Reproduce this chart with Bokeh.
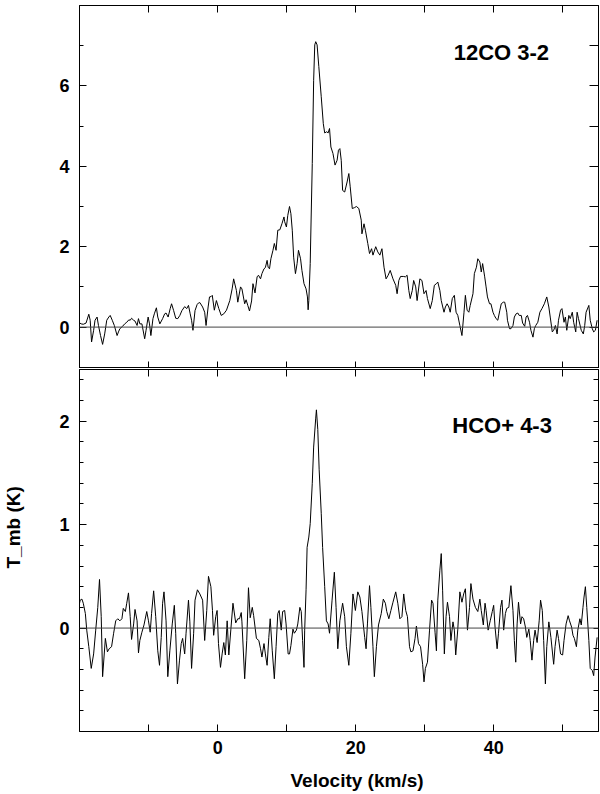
from bokeh.plotting import figure
from bokeh.layouts import column
from bokeh.models import Range1d, LinearAxis, FixedTicker, Span, Label, Title
from bokeh.embed import file_html
from bokeh.resources import INLINE

# ---------------- data ----------------
co_vel = [-20.2, -19.8, -19.5, -19.1, -18.7, -18.5, -18.3, -18.0, -17.8, -17.5, -17.3, -17.0, -16.7, -16.4,
          -16.1, -15.8, -15.6, -15.3, -15.0, -14.6, -14.4, -14.2, -13.8, -13.5, -13.2, -12.9, -12.7, -12.5,
          -12.2, -12.0, -11.7, -11.5, -11.3, -11.0, -10.6, -10.4, -10.1, -9.9, -9.7, -9.4, -9.2, -8.9, -8.7,
          -8.4, -8.0, -7.7, -7.5, -7.2, -6.9, -6.7, -6.4, -6.1, -5.8, -5.5, -5.2, -4.8, -4.5, -4.25, -4.0,
          -3.8, -3.6, -3.3, -3.0, -2.8, -2.6, -2.2, -1.9, -1.7, -1.4, -1.2, -0.96,
          -0.8, -0.5, -0.2, 0.15, 0.5, 0.87, 1.26, 1.74, 2.08, 2.3, 2.7, 2.9, 3.3, 3.5, 3.9, 4.1, 4.35, 4.6,
          4.9, 5.1, 5.4, 5.7, 5.9, 6.2, 6.4, 6.7, 6.9, 7.15, 7.3, 7.5, 7.7, 8.0, 8.2, 8.45, 8.7, 9.0, 9.3,
          9.6, 9.7, 9.95, 10.15, 10.4, 10.6, 10.8, 11.0, 11.26, 11.5, 11.7, 12.0, 12.2, 12.5, 12.8, 13.0,
          13.1, 13.2, 13.4, 13.7, 13.9, 14.06, 14.2, 14.4,
          14.65, 15.0, 15.3, 15.5, 15.8, 16.0, 16.2, 16.4, 16.7, 17.0, 17.3, 17.5, 17.7, 17.9, 18.1, 18.4,
          18.75, 19.0, 19.2, 19.5, 19.8, 20.1, 20.45, 20.8, 20.9, 21.2, 21.4, 21.75, 22.0, 22.3, 22.5, 22.9,
          23.2, 23.5, 23.8, 24.1, 24.4, 24.7, 25.0, 25.4, 25.8, 26.0, 26.25, 26.5, 26.9, 27.2, 27.45, 27.7,
          27.9, 28.2, 28.4, 28.7, 28.9, 29.3, 29.6, 29.9, 30.2, 30.4, 30.8, 31.1, 31.4, 31.7, 31.9, 32.2,
          32.4, 32.8, 33.0, 33.25, 33.5, 33.7, 34.0, 34.3, 34.55, 34.8, 35.1, 35.4, 35.7, 35.9, 36.15, 36.4,
          36.6, 37.0, 37.2, 37.5, 37.7, 38.0, 38.2, 38.4, 38.7, 38.9, 39.1, 39.4, 39.6, 39.9, 40.1, 40.35,
          40.6, 40.9, 41.1, 41.4, 41.6, 41.9, 42.0, 42.3, 42.5, 42.8, 43.0, 43.25, 43.5, 43.7, 44.0, 44.2,
          44.5, 44.7, 44.9, 45.2, 45.4, 45.7, 45.9, 46.1, 46.4, 46.7, 47.0, 47.35, 47.7, 48.0, 48.2, 48.5,
          48.7, 48.95, 49.2, 49.4, 49.7, 49.9, 50.2, 50.4, 50.6, 50.9, 51.1, 51.4, 51.6, 51.9, 52.1, 52.3,
          52.7, 53.0, 53.2, 53.4, 53.8, 54.0, 54.3, 54.5, 54.75, 55.0]
co_tmb = [0.12, 0.08, 0.07, 0.10, 0.32, 0.17, -0.37, -0.08, 0.17, 0.25, 0.04, -0.21, -0.43, -0.17,
          0.17, 0.25, 0.29, 0.17, 0.04, -0.21, -0.12, -0.04, 0.02, 0.08, 0.12, 0.18, 0.17, 0.22,
          0.17, 0.15, 0.04, 0.21, 0.08, 0.08, -0.29, -0.08, 0.25, 0.08, -0.21, 0.21, 0.33, 0.48, 0.25,
          0.08, 0.21, 0.33, 0.35, 0.25, 0.46, 0.58, 0.41, 0.22, 0.21, 0.29, 0.41, 0.51, 0.46, 0.54, 0.33,
          0.17, -0.08, 0.41, 0.56, 0.60, 0.61, 0.50, 0.37, 0.04, 0.50, 0.75, 0.76,
          0.79, 0.42, 0.66, 0.46, 0.29, 0.33, 0.42, 0.66, 0.95, 1.20, 0.91, 0.62, 1.00, 0.95, 0.58, 0.68, 0.54, 0.40,
          0.65, 1.08, 0.85, 1.25, 1.29, 1.20, 1.33, 1.45, 1.48, 1.66, 1.49, 1.45, 1.70, 1.91, 2.08, 1.91, 2.41, 2.42, 2.57,
          2.74, 2.62, 2.49, 2.78, 3.00, 2.82, 2.41, 1.74, 1.33, 1.58, 1.91, 1.70, 1.41, 1.08, 0.95, 0.75,
          0.43, 0.66, 1.58, 4.07, 6.14, 7.02, 7.10, 7.02,
          6.48, 5.73, 5.06, 4.83, 4.86, 4.83, 4.94, 4.48, 4.32, 4.03, 4.15, 4.40, 4.44, 4.15, 3.40, 3.36,
          3.61, 3.82, 3.49, 2.95, 2.97, 3.00, 2.95, 2.66, 2.32, 2.57, 2.41, 2.08, 1.83, 1.95, 1.79, 2.00,
          1.87, 1.79, 1.95, 1.49, 1.20, 1.29, 1.41, 1.20, 1.04, 0.83, 1.16, 1.26, 1.26, 1.25, 1.29, 0.91,
          0.71, 0.91, 1.16, 1.00, 0.66, 1.20, 1.16, 0.83, 0.91, 0.71, 0.46, 0.66, 1.04, 1.08, 1.12, 0.91,
          0.66, 0.37, 0.50, 0.58, 0.50, 0.37, 0.71, 0.79, 0.37, 0.29, 0.04, -0.21, 0.37, 0.79, 0.42, 0.37,
          0.54, 0.83, 1.33, 1.49, 1.70, 1.62, 1.37, 1.58, 1.25, 1.00, 0.75, 0.58, 0.58, 0.37, 0.29, 0.21,
          0.17, 0.42, 0.58, 0.62, 0.62, 0.37, 0.17, -0.04, -0.04, 0.04, 0.25, 0.33, 0.35, 0.29, 0.29, 0.10,
          0.02, 0.25, 0.29, 0.12, -0.08, -0.25, -0.04, 0.04, 0.12, 0.37, 0.46, 0.58, 0.75, 0.50, 0.25, -0.12,
          -0.08, 0.04, -0.17, 0.17, 0.42, 0.46, 0.12, 0.25, -0.08, 0.29, 0.21, 0.37, 0.12, -0.12, 0.37, 0.21,
          -0.08, -0.17, 0.04, 0.37, 0.54, 0.17, -0.04, -0.12, -0.08, 0.17]

hco_vel = [-20.2, -19.95, -19.7, -19.5, -19.2, -19.0, -18.7, -18.35, -18.0, -17.7, -17.4, -17.15, -16.9,
           -16.7, -16.3, -16.0, -15.75, -15.4, -15.1, -14.8, -14.5, -14.2, -13.9, -13.7, -13.4, -13.2,
           -12.95, -12.7, -12.5, -12.2, -12.0, -11.7, -11.5, -11.3, -11.0, -10.7, -10.3, -10.05, -9.8,
           -9.6, -9.3, -9.0, -8.7, -8.45, -8.2, -8.0, -7.8, -7.5, -7.25, -6.95, -6.6, -6.3, -6.1, -5.85,
           -5.55, -5.3, -5.1, -4.8, -4.6, -4.25, -4.05, -3.8, -3.5, -3.3, -2.95, -2.6, -2.2, -1.9, -1.6,
           -1.35, -1.0, -0.77, -0.6, -0.3, -0.1, 0.1,
           0.39, 0.63, 0.87, 1.1, 1.36, 1.6, 1.9, 2.2, 2.6, 2.9, 3.15, 3.4, 3.5, 3.9, 4.2, 4.45, 4.7, 5.0,
           5.2, 5.6, 5.95, 6.2, 6.4, 6.7, 6.9, 7.15, 7.4, 7.6, 7.9, 8.2, 8.45, 8.7, 8.9, 9.2, 9.4, 9.7,
           9.9, 10.2, 10.4, 10.6, 10.9, 11.1, 11.4, 11.6, 11.9, 12.1, 12.3, 12.5, 12.6, 12.8, 12.95, 13.2,
           13.4, 13.7, 13.9, 14.2, 14.3, 14.5, 14.7, 15.0, 15.2, 15.5, 15.75, 16.0, 16.2,
           16.57, 16.9, 17.15, 17.4, 17.7, 18.1, 18.4, 18.65, 19.0, 19.3, 19.6, 19.95, 20.3, 20.6, 20.9,
           21.3, 21.5, 21.7, 22.0, 22.2, 22.5, 22.7, 23.0, 23.3, 23.7, 24.0, 24.3, 24.5, 24.8, 25.1, 25.4,
           25.8, 26.1, 26.4, 26.7, 26.96, 27.25, 27.5, 27.8, 28.0, 28.3, 28.6, 28.8, 29.1, 29.4, 29.7,
           29.9, 30.1, 30.4, 30.7, 31.0, 31.2, 31.5, 31.7, 31.9, 32.2, 32.4, 32.6, 32.85, 33.1, 33.3, 33.6,
           33.8, 34.1, 34.3, 34.5, 34.8, 35.1,
           35.4, 35.65, 35.9, 36.2, 36.5, 36.7, 37.0, 37.35, 37.7, 38.0, 38.2, 38.5, 38.75, 38.9, 39.2,
           39.5, 39.8, 40.0, 40.2, 40.5, 40.7, 41.0, 41.2, 41.45, 41.7, 41.9, 42.2, 42.5, 42.8, 43.0, 43.2,
           43.4, 43.6, 43.9, 44.1, 44.35, 44.6, 44.8, 45.1, 45.3, 45.55, 45.8, 46.0, 46.3, 46.6, 46.8,
           47.05, 47.25, 47.5, 47.7, 48.0, 48.3, 48.7, 48.9, 49.2, 49.4, 49.7, 50.0, 50.2, 50.5, 50.8,
           51.0, 51.3, 51.5, 51.7, 52.0, 52.2, 52.5, 52.7, 52.95, 53.1, 53.3, 53.5, 53.8, 54.0, 54.3, 54.5,
           54.7, 55.0]
hco_tmb = [0.19, 0.27, 0.28, 0.24, 0.14, -0.02, -0.18, -0.39, -0.25, -0.02, 0.20, 0.47, 0.11,
           -0.47, -0.10, -0.23, -0.20, -0.18, -0.05, 0.07, 0.09, 0.07, 0.09, 0.19, 0.16, 0.24,
           0.34, 0.11, -0.11, 0.04, 0.18, 0.07, -0.24, -0.12, -0.04, 0.03, 0.16, 0.07, -0.04,
           0.14, 0.36, 0.11, -0.22, -0.36, -0.09, 0.24, 0.35, 0.07, -0.47, -0.22, 0.04, 0.22, -0.05, -0.54,
           -0.31, -0.15, -0.10, -0.25, -0.05, 0.27, 0.06, -0.39, -0.05, 0.27, 0.37, 0.33, 0.27, -0.12, 0.17,
           0.50, 0.40, 0.17, -0.07, 0.11, 0.17, -0.15,
           -0.38, -0.25, -0.14, -0.26, 0.07, -0.26, -0.01, 0.24, 0.05, 0.09, 0.09, 0.15, 0.06, -0.49, -0.12, 0.39, 0.10, 0.20,
           0.12, -0.10, -0.12, -0.20, -0.28, -0.15, -0.25, -0.36, -0.09, 0.09, -0.22, -0.49, -0.18, 0.14, 0.17, -0.02, 0.16, 0.17,
           0.04, -0.25, -0.25, -0.17, -0.01, -0.05, -0.02, 0.04, 0.20, 0.16, -0.12, -0.38, -0.02, 0.37, 0.78, 0.88,
           1.01, 1.40, 1.75, 2.03, 2.11, 1.92, 1.53, 1.11, 0.78, 0.40, 0.07, 0.04, -0.05,
           0.27, 0.54, 0.20, -0.20, 0.07, 0.24, 0.11, -0.18, -0.36, -0.05, 0.33, 0.17, 0.35, 0.30, 0.16,
           -0.09, -0.20, 0.04, 0.41, 0.20, -0.18, -0.47, -0.18, 0.03, 0.14, 0.28, 0.24, 0.16, 0.09, 0.17, 0.25,
           0.35, 0.24, 0.09, 0.11, 0.33, 0.17, 0.11, -0.18, -0.23, -0.22, -0.10, 0.02, -0.15, -0.18, -0.35,
           -0.52, -0.39, -0.33, -0.02, 0.27, 0.24, -0.04, -0.22, 0.27, 0.56, 0.72, 0.36, -0.25, 0.11, 0.25, 0.11,
           -0.12, 0.06, -0.02, -0.26, -0.01, 0.35,
           0.25, 0.33, 0.38, -0.02, 0.20, 0.43, 0.28, 0.20, 0.16, 0.28, 0.17, 0.03, 0.24, 0.17, -0.02,
           0.07, 0.16, 0.22, 0.01, -0.20, -0.05, 0.20, 0.27, -0.02, 0.14, 0.19, 0.20, 0.41, 0.17, -0.12, -0.33,
           0.04, 0.25, 0.04, 0.11, 0.09, 0.01, -0.09, -0.01, -0.12, -0.31, -0.12, -0.02, -0.14, 0.07, 0.27,
           0.17, -0.12, -0.54, -0.18, 0.06, -0.09, -0.35, -0.18, -0.02, -0.10, -0.25, -0.26, -0.12, 0.04, 0.12,
           0.07, 0.01, -0.07, -0.10, -0.18, -0.02, 0.09, 0.03, 0.20, 0.30, 0.40, 0.20, -0.12, -0.39, -0.41, -0.46,
           -0.28, -0.09]

x_ticks = [0, 20, 40]
x_minor_ticks = [-10, 10, 30, 50]
co_y_ticks = [0, 2, 4, 6]
co_y_minor = [-1, 1, 3, 5, 7]
hco_y_ticks = [0, 1, 2]
hco_y_minor = [-0.8, -0.6, -0.4, -0.2, 0.2, 0.4, 0.6, 0.8, 1.2, 1.4, 1.6, 1.8, 2.2, 2.4]

co_title = "12CO 3-2"
hco_title = "HCO+ 4-3"
x_title = "Velocity (km/s)"
y_title = "T_mb (K)"

FONT = "Liberation Sans"
W = 600

x_range = Range1d(-20.05, 55.2)


def make_axis(ticks, minor, labels, major_len=7, minor_len=4):
    ax = LinearAxis(ticker=FixedTicker(ticks=ticks, minor_ticks=minor))
    ax.major_tick_in = major_len
    ax.major_tick_out = 0
    ax.minor_tick_in = minor_len
    ax.minor_tick_out = 0
    ax.axis_line_color = "black"
    ax.major_tick_line_color = "black"
    ax.minor_tick_line_color = "black"
    ax.major_label_text_font = FONT
    ax.major_label_text_font_style = "bold"
    ax.major_label_text_font_size = "18px"
    if labels:
        ax.major_label_text_color = "black"
        ax.major_label_standoff = 10
    else:
        ax.major_label_text_color = None
        ax.major_label_standoff = 0
    return ax


def make_spacer(size, where):
    # a blank axis (white on white) that only reserves room before an axis title
    ax = LinearAxis(ticker=FixedTicker(ticks=[where], minor_ticks=[]))
    ax.major_tick_out = size
    ax.major_tick_in = 0
    ax.minor_tick_out = 0
    ax.minor_tick_in = 0
    ax.axis_line_color = None
    ax.major_tick_line_color = "white"
    ax.minor_tick_line_color = None
    ax.major_label_text_color = None
    ax.major_label_standoff = 0
    return ax


def make_fig(height, y_range, top_border, bottom_border):
    p = figure(width=W, height=height, x_range=x_range, y_range=y_range,
               output_backend="svg", toolbar_location=None,
               x_axis_location=None, y_axis_location=None,
               min_border_left=79, min_border_right=2,
               min_border_top=top_border, min_border_bottom=bottom_border)
    p.grid.visible = False
    p.outline_line_color = "black"
    p.outline_line_width = 1
    p.outline_line_alpha = 1.0
    p.background_fill_color = "white"
    p.border_fill_color = "white"
    return p


# ---------------- top panel: 12CO 3-2 ----------------
top = make_fig(368, Range1d(-1.03, 8.0), 5, 0)
top.add_layout(make_axis(x_ticks, x_minor_ticks, False, 7, 7), "below")
top.add_layout(make_axis(x_ticks, x_minor_ticks, False, 7, 7), "above")
top.add_layout(make_axis(co_y_ticks, co_y_minor, True), "left")
top.add_layout(make_axis(co_y_ticks, co_y_minor, False, 9, 9), "right")
top.add_layout(Span(location=0, dimension="width", line_color="#444444", line_width=1))
top.line(co_vel, co_tmb, line_color="black", line_width=1)
top.add_layout(Label(x=34.2, y=6.82, text=co_title, text_font=FONT, text_font_style="bold",
                     text_font_size="22px", text_align="left", text_baseline="alphabetic",
                     text_color="black"))

# ---------------- bottom panel: HCO+ 4-3 ----------------
bot = make_fig(426, Range1d(-1.0, 2.5), 1, 63)
xb = make_axis(x_ticks, x_minor_ticks, True, 7, 7)
xb.major_label_standoff = 9
bot.add_layout(xb, "below")
bot.add_layout(make_spacer(11, -19.6), "below")
bot.add_layout(Title(text=x_title, align="left", offset=211, standoff=0,
                     text_font=FONT, text_font_style="bold", text_font_size="19px",
                     text_color="black"), "below")
bot.add_layout(make_axis(x_ticks, x_minor_ticks, False, 7, 7), "above")
bot.add_layout(make_axis(hco_y_ticks, hco_y_minor, True), "left")
bot.add_layout(make_spacer(33, -0.95), "left")
bot.add_layout(Title(text=y_title, align="left", offset=163, standoff=0,
                     text_font=FONT, text_font_style="bold", text_font_size="19px",
                     text_color="black"), "left")
bot.add_layout(make_axis(hco_y_ticks, hco_y_minor, False, 5, 5), "right")
bot.add_layout(Span(location=0, dimension="width", line_color="#444444", line_width=1))
bot.line(hco_vel, hco_tmb, line_color="black", line_width=1)
bot.add_layout(Label(x=34.0, y=1.96, text=hco_title, text_font=FONT, text_font_style="bold",
                     text_font_size="22px", text_align="left", text_baseline="alphabetic",
                     text_color="black"))

layout = column(top, bot, spacing=0)

open("out.html", "w").write(file_html(layout, INLINE))
